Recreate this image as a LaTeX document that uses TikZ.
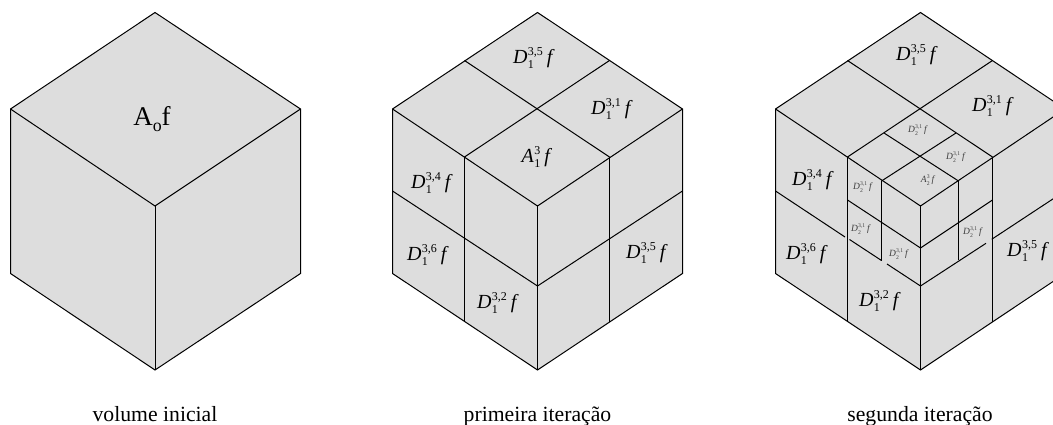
\documentclass[tikz,border=0pt]{standalone}
\usepackage{fontspec}
\setmainfont{Liberation Serif}
\usetikzlibrary{positioning}

\definecolor{facegray}{HTML}{DDDDDD}

\tikzstyle{face} = [
    fill=facegray,
    draw=black,
    line width=1pt
]
\tikzstyle{edge} = [
    draw=black,
    line width=1pt
]
\tikzstyle{caption} = [
    font=\fontsize{21.7}{24}\selectfont,
    anchor=base,
    inner sep=0pt
]
\tikzstyle{biglabel} = [
    font=\fontsize{20}{24}\selectfont,
    inner sep=0pt
]
\tikzstyle{smalllabel} = [
    font=\fontsize{9.5}{11}\selectfont,
    text=black!75,
    inner sep=0pt
]

% letter, lower index, upper index
\newcommand{\coef}[3]{\textit{#1}\kern.02em\rlap{\raisebox{-.25em}{\scalebox{.6}{#2}}}\raisebox{.42em}{\scalebox{.6}{#3}}\kern.2em\textit{f}}

\begin{document}
\begin{tikzpicture}[x=1pt,y=-1pt]

\useasboundingbox (0,0) rectangle (1053,425);
\clip (0,0) rectangle (1053,425);

% volume inicial
\draw [face] (155,12.5) -- (300.5,109) -- (300.5,273.5) -- (155,370) -- (10.5,273.5) -- (10.5,109) -- cycle;
\draw [edge] (10.5,109) -- (155,206) -- (300.5,109);
\draw [edge] (155,206) -- (155,370);

\node (a0) [biglabel, font=\fontsize{27}{30}\selectfont] at (152,119) {A\raisebox{-.22em}{\scalebox{.66}{o}}f};
\node (cap0) [caption] at (155,421.5) {volume inicial};

% primeira iteracao
\draw [face] (537.5,12.5) -- (682.5,109) -- (682.5,273.5) -- (537.5,370) -- (392.5,273.5) -- (392.5,109) -- cycle;
\draw [edge] (392.5,109) -- (537.5,206) -- (682.5,109);
\draw [edge] (537.5,206) -- (537.5,370);
\draw [edge] (464.5,60.5) -- (609.5,157);
\draw [edge] (609.5,60.5) -- (464.5,157);
\draw [edge] (464.5,157) -- (464.5,321.5);
\draw [edge] (609.5,157) -- (609.5,321.5);
\draw [edge] (392.5,191) -- (537.5,286) -- (682.5,191);

\node (p35) [biglabel] at (534,58) {\coef{D}{1}{3,5}};
\node (p31) [biglabel] at (612,109) {\coef{D}{1}{3,1}};
\node (pa) [biglabel] at (537,157) {\coef{A}{1}{3}};
\node (p34) [biglabel] at (432,183) {\coef{D}{1}{3,4}};
\node (p36) [biglabel] at (428,255) {\coef{D}{1}{3,6}};
\node (p32) [biglabel] at (498,303) {\coef{D}{1}{3,2}};
\node (p35b) [biglabel] at (647,253) {\coef{D}{1}{3,5}};
\node (cap1) [caption] at (537.5,421.5) {primeira iteração};

% segunda iteracao
\draw [face] (920.5,12.5) -- (1065,109) -- (1065,273.5) -- (920.5,370) -- (775.5,273.5) -- (775.5,109) -- cycle;
\draw [edge] (775.5,109) -- (920.5,206) -- (1065,109);
\draw [edge] (920.5,206) -- (920.5,370);
\draw [edge] (847.5,60.5) -- (992.5,157);
\draw [edge] (992.5,60.5) -- (847.5,157);
\draw [edge] (847.5,157) -- (847.5,321.5);
\draw [edge] (992.5,157) -- (992.5,321.5);

\draw [edge] (775.5,191) -- (845,237);
\draw [edge] (849.5,239.5) -- (881.5,260.5);
\draw [edge] (887,264) -- (920.5,286) -- (986,243.3);
\draw [edge] (991.7,239.3) -- (1065,191);

\draw [edge] (884,133) -- (958.5,181);
\draw [edge] (956,133) -- (881.5,181);
\draw [edge] (881.5,181) -- (881.5,260.5);
\draw [edge] (958.5,181) -- (958.5,260);
\draw [edge] (847.5,200) -- (920.5,248) -- (992.5,200);

\node (s35) [biglabel] at (917,55) {\coef{D}{1}{3,5}};
\node (s31) [biglabel] at (993,106) {\coef{D}{1}{3,1}};
\node (s34) [biglabel] at (813,180) {\coef{D}{1}{3,4}};
\node (s36) [biglabel] at (807,254) {\coef{D}{1}{3,6}};
\node (s32) [biglabel] at (880,301) {\coef{D}{1}{3,2}};
\node (s35b) [biglabel] at (1028,251) {\coef{D}{1}{3,5}};

\node (t1) [smalllabel] at (918,130) {\coef{D}{2}{3,1}};
\node (t2) [smalllabel] at (956,157) {\coef{D}{2}{3,1}};
\node (t3) [smalllabel] at (928,180) {\coef{A}{2}{3}};
\node (t4) [smalllabel] at (863,187) {\coef{D}{2}{3,1}};
\node (t5) [smalllabel] at (861,229) {\coef{D}{2}{3,1}};
\node (t6) [smalllabel] at (899,254) {\coef{D}{2}{3,1}};
\node (t7) [smalllabel] at (973,232) {\coef{D}{2}{3,1}};
\node (cap2) [caption] at (920,421.5) {segunda iteração};

\end{tikzpicture}
\end{document}
